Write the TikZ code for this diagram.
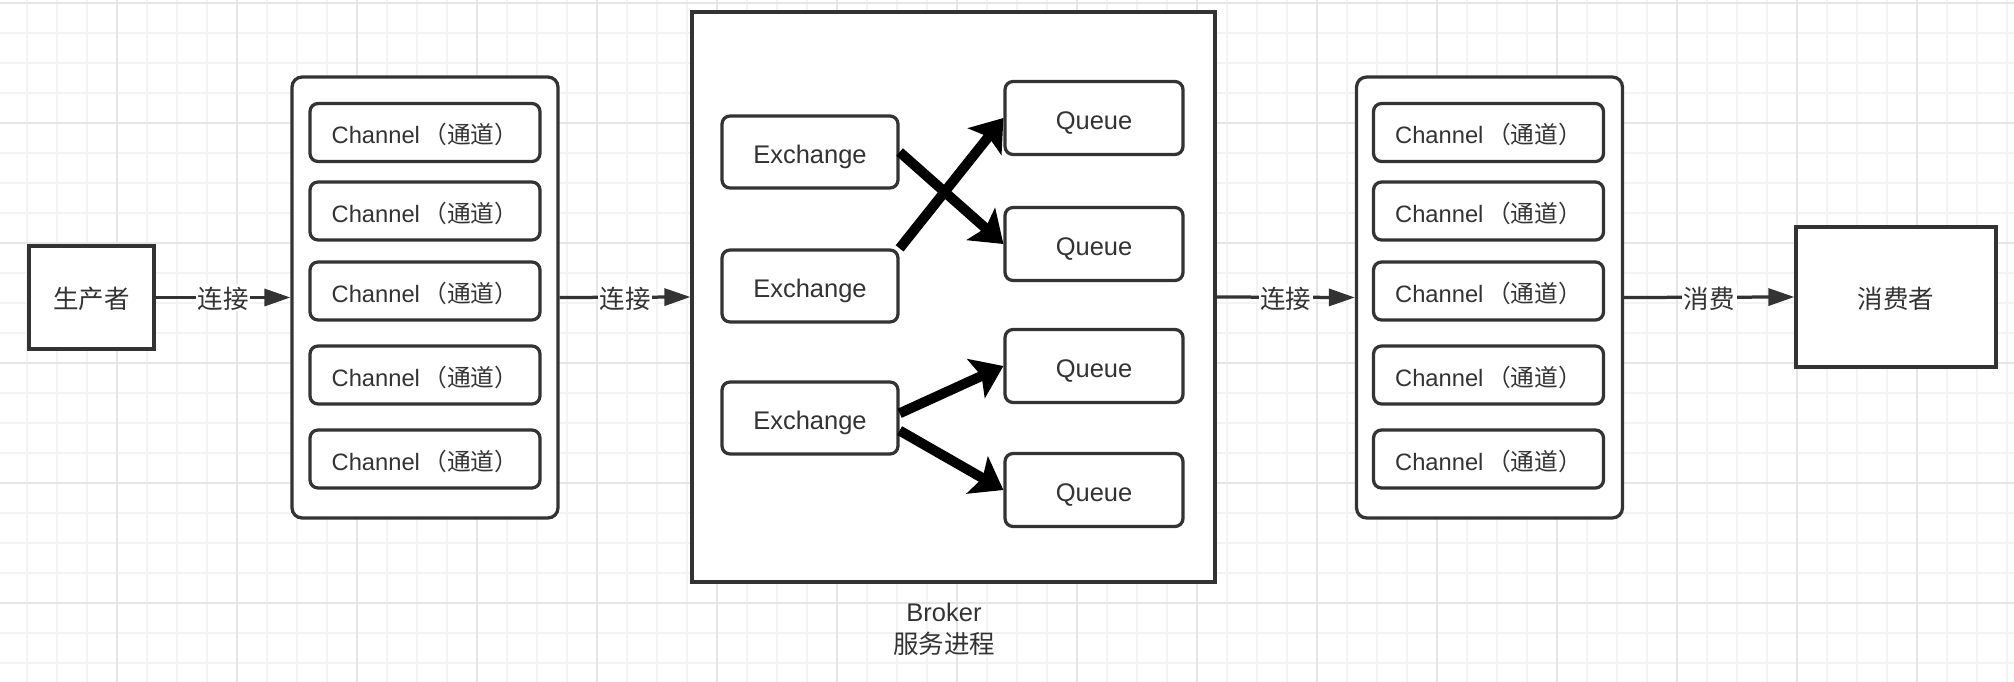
\documentclass[tikz,border=0pt]{standalone}
\usepackage{fontspec}
\setmainfont{Liberation Sans}
\newfontfamily\cjk{Noto Sans CJK SC}
\usetikzlibrary{arrows.meta}
\definecolor{ink}{HTML}{333333}
\definecolor{gridlt}{HTML}{F3F3F3}
\definecolor{griddk}{HTML}{E6E6E6}
\tikzset{
	txt/.style={text=ink, font=\fontsize{14.5}{17}\selectfont, text height=13pt, text depth=0pt},
	endbox/.style={txt, draw=ink, line width=0.065cm, fill=white},
	grpbox/.style={draw=ink, line width=0.065cm, rounded corners=0.2cm, fill=white,
		minimum width=5.32cm, minimum height=8.82cm},
	chanbox/.style={txt, font=\fontsize{13.5}{16}\selectfont, draw=ink, line width=0.065cm,
		rounded corners=0.16cm, fill=white, minimum width=4.6cm, minimum height=1.16cm},
	exbox/.style={txt, draw=ink, line width=0.065cm, rounded corners=0.16cm, fill=white,
		minimum width=3.52cm, minimum height=1.44cm},
	queuebox/.style={txt, draw=ink, line width=0.065cm, rounded corners=0.16cm, fill=white,
		minimum width=3.56cm, minimum height=1.46cm},
	conn/.style={ink, line width=0.065cm, -{Triangle[length=0.52cm, width=0.34cm]}},
	lbl/.style={txt, fill=white, inner sep=1pt},
	route/.style={black, line width=0.2cm, -{Stealth[length=0.6cm, width=0.85cm, inset=0.12cm]}}
}
\begin{document}
\begin{tikzpicture}[x=0.02cm, y=-0.02cm]
% page and grid
	\useasboundingbox (0,0) rectangle (2014,682);
	\fill[white] (0,0) rectangle (2014,682);
	\foreach \gx in {27,57,...,2007}
		\draw[gridlt, line width=0.04cm] (\gx,0) -- (\gx,682);
	\foreach \gy in {3,33,...,663}
		\draw[gridlt, line width=0.04cm] (0,\gy) -- (2014,\gy);
	\foreach \gx in {117,237,...,1917}
		\draw[griddk, line width=0.04cm] (\gx,0) -- (\gx,682);
	\foreach \gy in {3,123,...,603}
		\draw[griddk, line width=0.04cm] (0,\gy) -- (2014,\gy);
% producer side
	\node[endbox, minimum width=2.5cm, minimum height=2.06cm] (prod) at (91.5,297.5) {\cjk 生产者};
	\node[grpbox] (grpL) at (425,297.5) {};
	\foreach \cy [count=\i] in {132.5,211,291,375,459}
		\node[chanbox] (chanL\i) at (425,\cy) {Channel\hspace{2pt}{\cjk （通道）}};
% broker
	\node[draw=ink, line width=0.065cm, fill=white, minimum width=10.46cm, minimum height=11.4cm]
		(broker) at (953.5,297) {};
	\node[text=ink, align=center, font=\fontsize{14.5}{18}\selectfont] (brokerlbl) at (944,629)
		{Broker\\{\cjk 服务进程}};
	\foreach \ey [count=\i] in {152,286,418}
		\node[exbox] (ex\i) at (810,\ey) {Exchange};
	\foreach \qy [count=\i] in {118,244,366,490}
		\node[queuebox] (q\i) at (1094,\qy) {Queue};
	\draw[route] (ex1.east) -- (q2.west);
	\draw[route] (ex2.north east) -- (q1.west);
	\draw[route] (ex3.3) -- (q3.west);
	\draw[route] (ex3.-8) -- (q4.west);
% consumer side
	\node[grpbox] (grpR) at (1489.5,297.5) {};
	\foreach \cy [count=\i] in {132.5,211,291,375,459}
		\node[chanbox] (chanR\i) at (1488.5,\cy) {Channel\hspace{2pt}{\cjk （通道）}};
	\node[endbox, minimum width=4cm, minimum height=2.8cm] (cons) at (1896,297) {\cjk 消费者};
% connections
	\draw[conn] (prod.east) -- node[lbl] (lk1) {\cjk 连接} (grpL.west);
	\draw[conn] (grpL.east) -- node[lbl] (lk2) {\cjk 连接} (broker.west);
	\draw[conn] (broker.east) -- node[lbl] (lk3) {\cjk 连接} (grpR.west);
	\draw[conn] (grpR.east) -- node[lbl] (lk4) {\cjk 消费} (cons.west);
\end{tikzpicture}
\end{document}
